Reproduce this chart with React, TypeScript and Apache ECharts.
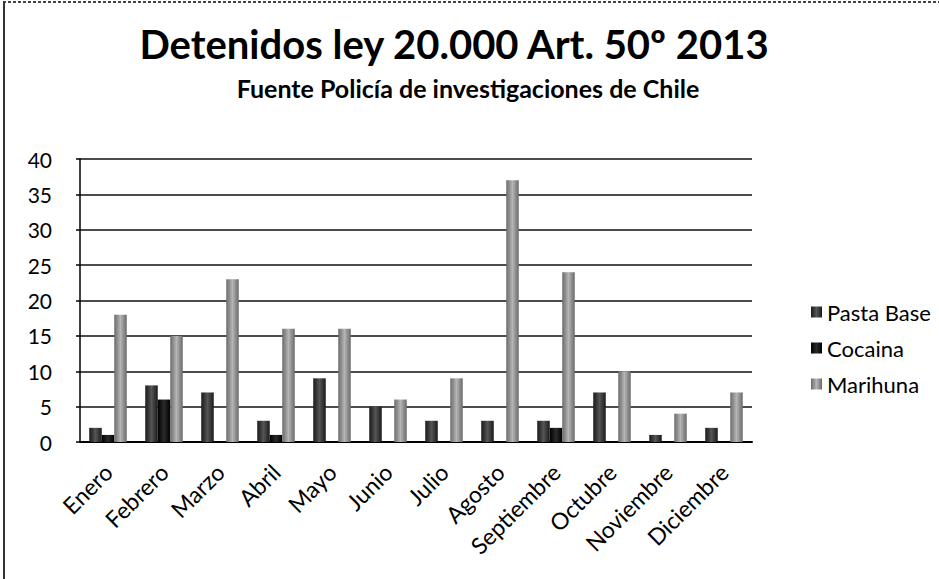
import React, { useEffect, useRef } from "react";
import * as echarts from "echarts";

const months = ["Enero", "Febrero", "Marzo", "Abril", "Mayo", "Junio", "Julio", "Agosto", "Septiembre", "Octubre", "Noviembre", "Diciembre"];
const pastaBase = [2, 8, 7, 3, 9, 5, 3, 3, 3, 7, 1, 2];
const cocaina = [1, 6, 0, 1, 0, 0, 0, 0, 2, 0, 0, 0];
const marihuana = [18, 15, 23, 16, 16, 6, 9, 37, 24, 10, 4, 7];
const seriesNames = ["Pasta Base", "Cocaina", "Marihuna"];

const FONT = "Lato, 'Noto Sans', sans-serif";

function cyl(dark: string, mid: string) {
  return new echarts.graphic.LinearGradient(0, 0, 1, 0, [
    { offset: 0, color: dark },
    { offset: 0.5, color: mid },
    { offset: 1, color: dark },
  ]);
}

export default function App() {
  const ref = useRef<HTMLDivElement>(null);
  useEffect(() => {
    if (!ref.current) return;
    const chart = echarts.init(ref.current, null, { renderer: "svg" });
    chart.setOption({
      animation: false,
      backgroundColor: "#ffffff",
      title: [
        {
          text: "Detenidos ley 20.000 Art. 50º 2013",
          left: 449,
          textAlign: "center",
          top: 19,
          textStyle: { fontFamily: FONT, fontWeight: "bold", fontSize: 40, color: "#000" },
        },
        {
          text: "Fuente Policía de investigaciones de Chile",
          left: 463,
          textAlign: "center",
          top: 70,
          textStyle: { fontFamily: FONT, fontWeight: "bold", fontSize: 25, color: "#000" },
        },
      ],
      legend: {
        orient: "vertical",
        left: 806,
        top: 296,
        itemWidth: 11,
        itemHeight: 11,
        itemGap: 14,
        icon: "rect",
        textStyle: { fontFamily: FONT, fontSize: 22, color: "#000", lineHeight: 22 },
        data: seriesNames,
      },
      grid: { left: 80, right: 187, top: 159, bottom: 137, containLabel: false },
      xAxis: {
        type: "category",
        data: months,
        axisLine: { show: true, lineStyle: { color: "#000", width: 2 } },
        axisTick: { show: false },
        axisLabel: {
          rotate: 45,
          interval: 0,
          margin: 26,
          fontFamily: FONT,
          fontSize: 23,
          color: "#000",
        },
      },
      yAxis: {
        type: "value",
        min: 0,
        max: 40,
        interval: 5,
        axisLine: { show: true, lineStyle: { color: "#000", width: 1.5 } },
        axisTick: { show: true, length: 4, lineStyle: { color: "#000", width: 1.5 } },
        splitLine: { lineStyle: { color: "#111", width: 1.6 } },
        axisLabel: { fontFamily: FONT, fontSize: 21, color: "#000", margin: 28 },
      },
      series: [
        {
          name: seriesNames[0],
          type: "bar",
          data: pastaBase,
          barGap: "0%",
          barCategoryGap: "33%",
          itemStyle: { color: cyl("#1a1a1a", "#555555") },
        },
        {
          name: seriesNames[1],
          type: "bar",
          data: cocaina,
          itemStyle: { color: cyl("#000000", "#2a2a2a") },
        },
        {
          name: seriesNames[2],
          type: "bar",
          data: marihuana,
          itemStyle: { color: cyl("#6a6a6a", "#b5b5b5") },
        },
      ],
      graphic: [
        { type: "line", shape: { x1: 3, y1: 2, x2: 939, y2: 2 }, style: { stroke: "#444", lineWidth: 2, lineDash: [3, 2] } },
        { type: "line", shape: { x1: 4, y1: 2, x2: 4, y2: 579 }, style: { stroke: "#333", lineWidth: 2 } },
      ],
    });
    return () => chart.dispose();
  }, []);
  return <div ref={ref} style={{ position: "fixed", left: 0, top: 0, width: 939, height: 579 }} />;
}
